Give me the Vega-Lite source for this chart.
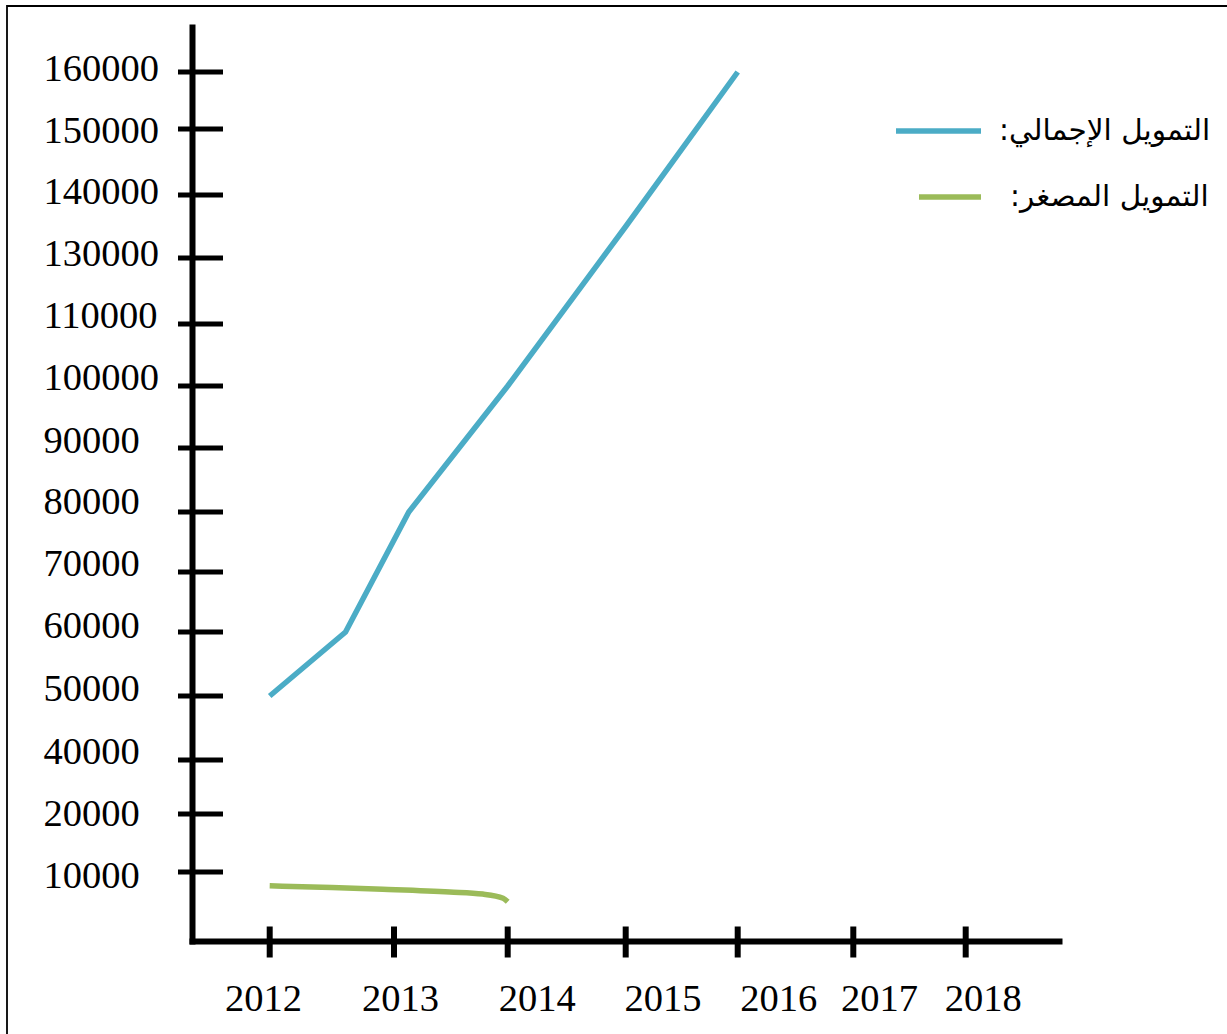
{
  "$schema": "https://vega.github.io/schema/vega-lite/v6.json",
  "autosize": "none",
  "width": 1222,
  "height": 1030,
  "padding": {"left": 7, "top": 6, "right": -2, "bottom": -2},
  "background": "white",
  "config": {
    "view": {"stroke": "black", "strokeWidth": 1.8},
    "axis": {
      "labelFont": "Liberation Serif",
      "labelFontSize": 38.5,
      "labelColor": "black",
      "labelOverlap": false,
      "labelFlush": false,
      "labelBound": false,
      "ticks": false,
      "tickSize": 0,
      "grid": false,
      "domainColor": "black",
      "domainWidth": 6,
      "domainCap": "square",
      "title": null
    },
    "legend": {
      "orient": "none", "legendX": 886, "legendY": 110,
      "title": null, "padding": 0,
      "symbolType": "stroke", "symbolSize": 7225, "symbolStrokeWidth": 5.5,
      "labelFont": "DejaVu Sans", "labelFontSize": 29.5, "labelColor": "black",
      "labelOffset": 18, "labelLimit": 400, "rowPadding": 36, "clipHeight": 30
    }
  },
  "datasets": {
    "total": [
      {"series": "التمويل الإجمالي:", "year": 2012, "val": 50000},
      {"series": "التمويل الإجمالي:", "year": 2012.61, "val": 60000},
      {"series": "التمويل الإجمالي:", "year": 2013.13, "val": 80000},
      {"series": "التمويل الإجمالي:", "year": 2014, "val": 100000},
      {"series": "التمويل الإجمالي:", "year": 2015, "val": 135000},
      {"series": "التمويل الإجمالي:", "year": 2016, "val": 160000}
    ],
    "micro": [
      {"series": "التمويل المصغر:", "year": 2012, "val": 8000},
      {"series": "التمويل المصغر:", "year": 2012.5, "val": 7750},
      {"series": "التمويل المصغر:", "year": 2012.91, "val": 7500},
      {"series": "التمويل المصغر:", "year": 2013.49, "val": 7100},
      {"series": "التمويل المصغر:", "year": 2013.78, "val": 6800},
      {"series": "التمويل المصغر:", "year": 2013.96, "val": 6200},
      {"series": "التمويل المصغر:", "year": 2014, "val": 5700}
    ],
    "yticks": [
      {"val": 160000}, {"val": 150000}, {"val": 140000}, {"val": 130000},
      {"val": 110000}, {"val": 100000}, {"val": 90000}, {"val": 80000},
      {"val": 70000}, {"val": 60000}, {"val": 50000}, {"val": 40000},
      {"val": 20000}, {"val": 10000}
    ],
    "xticks": [
      {"year": 2012}, {"year": 2013}, {"year": 2014}, {"year": 2015},
      {"year": 2016}, {"year": 2017}, {"year": 2018}
    ]
  },
  "layer": [
    {
      "data": {"name": "yticks"},
      "mark": {"type": "tick", "orient": "horizontal", "size": 45, "thickness": 5, "color": "black", "opacity": 1, "xOffset": 8.5},
      "encoding": {
        "y": {
          "field": "val", "type": "quantitative",
          "scale": {"domain": [0, 10000, 20000, 40000, 50000, 60000, 70000, 80000, 90000, 100000, 110000, 130000, 140000, 150000, 160000, 168000], "range": [935, 866, 808, 754, 690, 626, 566, 506, 442, 380, 318, 252, 189, 123, 66, 21], "nice": false, "zero": false},
          "axis": {
            "orient": "left", "offset": -185,
            "values": [160000, 150000, 140000, 130000, 110000, 100000, 90000, 80000, 70000, 60000, 50000, 40000, 20000, 10000],
            "format": "d", "labelAlign": "left", "labelBaseline": "alphabetic", "labelPadding": 149,
            "labelOffset": {"expr": "[8,13,8,7,3,3,4,1,3,5,4,3,11,15][indexof([160000,150000,140000,130000,110000,100000,90000,80000,70000,60000,50000,40000,20000,10000], datum.value)]"}
          }
        },
        "x": {
          "datum": 2011.375, "type": "quantitative",
          "scale": {"domain": [2011.375, 2012, 2013, 2014, 2015, 2016, 2017, 2018, 2018.83], "range": [185, 262.7, 387, 500.7, 618.7, 730.7, 846.3, 958.7, 1052], "nice": false, "zero": false},
          "axis": {
            "orient": "bottom", "offset": -95,
            "values": [2012, 2013, 2014, 2015, 2016, 2017, 2018],
            "format": "d", "labelAlign": "center", "labelBaseline": "alphabetic", "labelPadding": 69,
            "labelOffset": {"expr": "[-6.7,6,29,36.8,40.6,25.7,17][indexof([2012,2013,2014,2015,2016,2017,2018], datum.value)]"}
          }
        }
      }
    },
    {
      "data": {"name": "xticks"},
      "mark": {"type": "tick", "orient": "vertical", "size": 31, "thickness": 6, "color": "black", "opacity": 1, "yOffset": 1},
      "encoding": {
        "x": {
          "field": "year", "type": "quantitative",
          "scale": {"domain": [2011.375, 2012, 2013, 2014, 2015, 2016, 2017, 2018, 2018.83], "range": [185, 262.7, 387, 500.7, 618.7, 730.7, 846.3, 958.7, 1052], "nice": false, "zero": false}
        },
        "y": {
          "datum": 0, "type": "quantitative",
          "scale": {"domain": [0, 10000, 20000, 40000, 50000, 60000, 70000, 80000, 90000, 100000, 110000, 130000, 140000, 150000, 160000, 168000], "range": [935, 866, 808, 754, 690, 626, 566, 506, 442, 380, 318, 252, 189, 123, 66, 21], "nice": false, "zero": false}
        }
      }
    },
    {
      "data": {"name": "total"},
      "mark": {"type": "line", "strokeWidth": 5.5, "interpolate": "linear"},
      "encoding": {
        "x": {
          "field": "year", "type": "quantitative",
          "scale": {"domain": [2011.375, 2012, 2013, 2014, 2015, 2016, 2017, 2018, 2018.83], "range": [185, 262.7, 387, 500.7, 618.7, 730.7, 846.3, 958.7, 1052], "nice": false, "zero": false}
        },
        "y": {
          "field": "val", "type": "quantitative",
          "scale": {"domain": [0, 10000, 20000, 40000, 50000, 60000, 70000, 80000, 90000, 100000, 110000, 130000, 140000, 150000, 160000, 168000], "range": [935, 866, 808, 754, 690, 626, 566, 506, 442, 380, 318, 252, 189, 123, 66, 21], "nice": false, "zero": false}
        },
        "color": {
          "field": "series", "type": "nominal",
          "scale": {"domain": ["التمويل الإجمالي:", "التمويل المصغر:"], "range": ["#4bacc6", "#9bbb59"]},
          "legend": {
            "labelExpr": "datum.label + '\u200f'",
            "encode": {
              "symbols": {"update": {
                "size": {"signal": "datum.value === 'التمويل المصغر:' ? 3844 : 7225"},
                "x": {"signal": "datum.value === 'التمويل المصغر:' ? 57 : 45.5"}
              }},
              "labels": {"update": {
                "dx": {"signal": "datum.value === 'التمويل المصغر:' ? 8 : -3"}
              }}
            }
          }
        }
      }
    },
    {
      "data": {"name": "micro"},
      "mark": {"type": "line", "strokeWidth": 5.5, "interpolate": "monotone"},
      "encoding": {
        "x": {
          "field": "year", "type": "quantitative",
          "scale": {"domain": [2011.375, 2012, 2013, 2014, 2015, 2016, 2017, 2018, 2018.83], "range": [185, 262.7, 387, 500.7, 618.7, 730.7, 846.3, 958.7, 1052], "nice": false, "zero": false}
        },
        "y": {
          "field": "val", "type": "quantitative",
          "scale": {"domain": [0, 10000, 20000, 40000, 50000, 60000, 70000, 80000, 90000, 100000, 110000, 130000, 140000, 150000, 160000, 168000], "range": [935, 866, 808, 754, 690, 626, 566, 506, 442, 380, 318, 252, 189, 123, 66, 21], "nice": false, "zero": false}
        },
        "color": {
          "field": "series", "type": "nominal",
          "scale": {"domain": ["التمويل الإجمالي:", "التمويل المصغر:"], "range": ["#4bacc6", "#9bbb59"]},
          "legend": {
            "labelExpr": "datum.label + '\u200f'",
            "encode": {
              "symbols": {"update": {
                "size": {"signal": "datum.value === 'التمويل المصغر:' ? 3844 : 7225"},
                "x": {"signal": "datum.value === 'التمويل المصغر:' ? 57 : 45.5"}
              }},
              "labels": {"update": {
                "dx": {"signal": "datum.value === 'التمويل المصغر:' ? 8 : -3"}
              }}
            }
          }
        }
      }
    }
  ]
}
